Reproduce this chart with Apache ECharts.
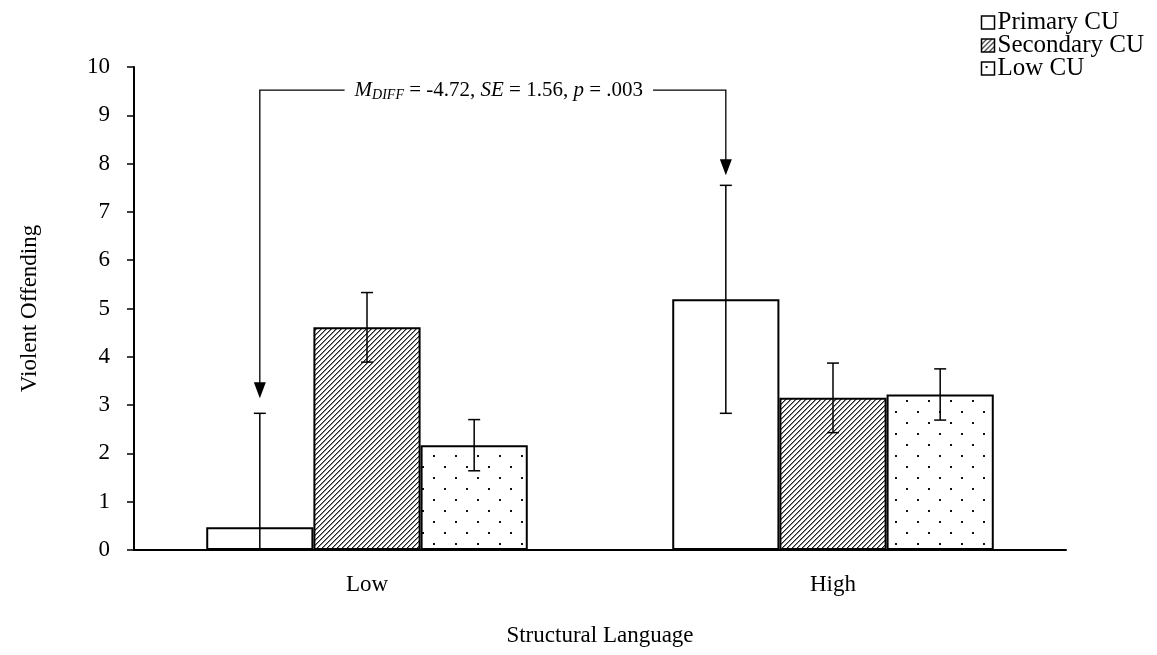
<!DOCTYPE html>
<html>
<head>
<meta charset="utf-8">
<script src="https://cdn.jsdelivr.net/npm/echarts@6/dist/echarts.min.js"></script>
<style>
  html, body { margin: 0; padding: 0; background: #fff; }
  #chart { width: 1157px; height: 655px; }
</style>
</head>
<body>
<div id="chart"></div>
<script>
// Group labels on the x axis
const categories = ['Low', 'High'];
// Series names (CU subgroups)
const seriesNames = ['Primary CU', 'Secondary CU', 'Low CU'];
// Mean violent offending per group
const primaryMeans = [0.47, 5.19];
const secondaryMeans = [4.61, 3.15];
const lowMeans = [2.17, 3.22];
// Standard errors
const primarySE = [2.36, 2.36];
const secondarySE = [0.72, 0.72];
const lowSE = [0.53, 0.53];
// Y axis ticks
const yTicks = [0, 1, 2, 3, 4, 5, 6, 7, 8, 9, 10];
// Pairwise comparison note
const diffNote = { from: 0, to: 1, mDiff: '-4.72', se: '1.56', p: '.003' };

const FONT = '"Liberation Serif", "Times New Roman", serif';
const CAT_GAP = 0.31;

// Fill patterns
function hatchPattern() {
  const c = document.createElement('canvas');
  c.width = 5; c.height = 5;
  const g = c.getContext('2d');
  g.fillStyle = '#fff'; g.fillRect(0, 0, 5, 5);
  g.fillStyle = '#222';
  for (let i = 0; i < 5; i++) g.fillRect(i, 4 - i, 1, 1);
  g.fillStyle = '#888';
  for (let i = 0; i < 5; i++) g.fillRect((i + 1) % 5, 4 - i, 1, 1);
  return c;
}
function dotPattern() {
  const c = document.createElement('canvas');
  c.width = 22; c.height = 22;
  const g = c.getContext('2d');
  g.fillStyle = '#fff'; g.fillRect(0, 0, 22, 22);
  g.fillStyle = '#111';
  g.fillRect(4, 4, 2, 2);
  g.fillRect(15, 15, 2, 2);
  return c;
}
const fills = [
  '#ffffff',
  { image: hatchPattern(), repeat: 'repeat' },
  { image: dotPattern(), repeat: 'repeat' }
];

const meansList = [primaryMeans, secondaryMeans, lowMeans];
const seList = [primarySE, secondarySE, lowSE];

// bar x-centre for series k at category index ci
function barCenter(api, ci, k) {
  const base = api.coord([ci, 0]);
  const band = api.size([1, 0])[0];
  const w = band * (1 - CAT_GAP) / 3;
  return { x: base[0] + (k - 1) * w, w: w };
}

const barSeries = seriesNames.map((name, k) => ({
  name: name,
  type: 'bar',
  data: meansList[k],
  barGap: '0%',
  barCategoryGap: (CAT_GAP * 100) + '%',
  itemStyle: { color: fills[k], borderColor: '#000', borderWidth: 2 },
  emphasis: { disabled: true },
  z: 2
}));

const errData = [];
seriesNames.forEach((n, k) => {
  categories.forEach((c, ci) => {
    const m = meansList[k][ci], s = seList[k][ci];
    errData.push([ci, m - s, m + s, k]);
  });
});

const errSeries = {
  type: 'custom',
  name: 'err',
  data: errData,
  encode: { x: 0, y: [1, 2] },
  z: 5,
  silent: true,
  renderItem: function (params, api) {
    const ci = api.value(0), k = api.value(3);
    const lo = Math.max(api.value(1), 0), hi = api.value(2);
    const cx = barCenter(api, ci, k).x;
    const pLo = api.coord([ci, lo])[1], pHi = api.coord([ci, hi])[1];
    const cap = 6;
    const st = { stroke: '#000', lineWidth: 1.5 };
    const children = [
      { type: 'line', shape: { x1: cx, y1: pLo, x2: cx, y2: pHi }, style: st },
      { type: 'line', shape: { x1: cx - cap, y1: pHi, x2: cx + cap, y2: pHi }, style: st }
    ];
    if (api.value(1) >= 0) {
      children.push({ type: 'line', shape: { x1: cx - cap, y1: pLo, x2: cx + cap, y2: pLo }, style: st });
    }
    return { type: 'group', children: children };
  }
};

// Comparison bracket between the two Primary CU bars
const noteSeries = {
  type: 'custom',
  name: 'note',
  data: [[diffNote.from, diffNote.to, 9.52,
          primaryMeans[diffNote.from] + primarySE[diffNote.from],
          primaryMeans[diffNote.to] + primarySE[diffNote.to]]],
  encode: { x: [0, 1], y: 2 },
  z: 6,
  silent: true,
  renderItem: function (params, api) {
    const a = api.value(0), b = api.value(1);
    const xa = barCenter(api, a, 0).x, xb = barCenter(api, b, 0).x;
    const yLine = api.coord([a, api.value(2)])[1];
    const tipA = api.coord([a, api.value(3)])[1] - 15;
    const tipB = api.coord([b, api.value(4)])[1] - 10;
    const st = { stroke: '#000', lineWidth: 1.3, fill: null };
    const head = (x, y) => ({
      type: 'polygon',
      shape: { points: [[x - 6, y - 16], [x + 6, y - 16], [x, y]] },
      style: { fill: '#000' }
    });
    const mid = (xa + xb) / 2;
    return {
      type: 'group',
      children: [
        { type: 'polyline', shape: { points: [[xa, tipA - 14], [xa, yLine], [xb, yLine], [xb, tipB - 14]] }, style: st },
        head(xa, tipA),
        head(xb, tipB),
        {
          type: 'text',
          x: mid + 6, y: yLine,
          style: {
            text: '{i|M}{s|DIFF}{n| = ' + diffNote.mDiff + ', }{i|SE}{n| = ' + diffNote.se + ', }{i|p}{n| = ' + diffNote.p + '}',
            align: 'center', verticalAlign: 'middle',
            backgroundColor: '#fff',
            padding: [0, 10, 0, 10],
            rich: {
              i: { fontFamily: FONT, fontStyle: 'italic', fontSize: 21, lineHeight: 24, fill: '#000' },
              n: { fontFamily: FONT, fontSize: 21, lineHeight: 24, fill: '#000' },
              s: { fontFamily: FONT, fontStyle: 'italic', fontSize: 14, lineHeight: 16, verticalAlign: 'bottom', padding: [6, 0, 0, 0], fill: '#000' }
            }
          }
        }
      ]
    };
  }
};

const chart = echarts.init(document.getElementById('chart'), null, { renderer: 'canvas' });
chart.setOption({
  animation: false,
  backgroundColor: '#fff',
  textStyle: { fontFamily: FONT, color: '#000' },
  grid: { left: 134, right: 91, top: 67, bottom: 105 },
  legend: {
    data: seriesNames,
    orient: 'vertical',
    right: 8,
    top: 5,
    itemWidth: 13,
    itemHeight: 13,
    itemGap: -2,
    icon: 'rect',
    itemStyle: { borderColor: '#000', borderWidth: 1.5 },
    textStyle: { fontFamily: FONT, fontSize: 25, color: '#000', padding: [0, 0, 0, -2], lineHeight: 24 },
    selectedMode: false
  },
  xAxis: {
    type: 'category',
    data: categories,
    name: 'Structural Language',
    nameLocation: 'middle',
    nameGap: 74,
    nameTextStyle: { fontFamily: FONT, fontSize: 23, color: '#000' },
    axisLine: { lineStyle: { color: '#000', width: 2 } },
    axisTick: { show: false },
    axisLabel: { fontFamily: FONT, fontSize: 23, color: '#000', margin: 23 }
  },
  yAxis: {
    type: 'value',
    min: yTicks[0],
    max: yTicks[yTicks.length - 1],
    interval: 1,
    name: 'Violent Offending',
    nameLocation: 'middle',
    nameGap: 93,
    nameTextStyle: { fontFamily: FONT, fontSize: 23, color: '#000' },
    axisLine: { show: true, lineStyle: { color: '#000', width: 2 } },
    axisTick: { show: true, length: 7, lineStyle: { color: '#000', width: 1.5 } },
    axisLabel: { fontFamily: FONT, fontSize: 23, color: '#000', margin: 24 },
    splitLine: { show: false }
  },
  series: barSeries.concat([errSeries, noteSeries])
});
</script>
</body>
</html>
